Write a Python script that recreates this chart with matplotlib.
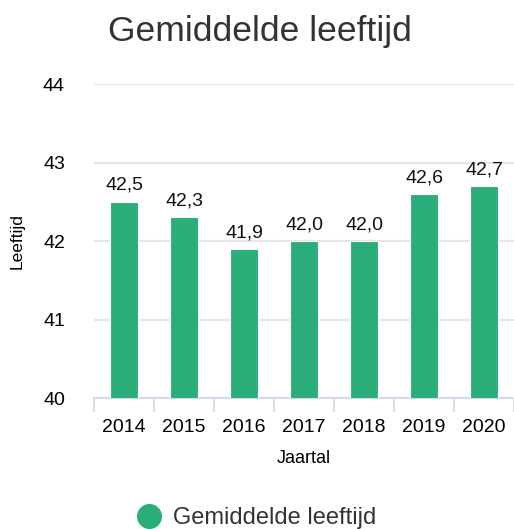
import matplotlib
matplotlib.use("Agg")
import matplotlib.pyplot as plt
from matplotlib.lines import Line2D
import numpy as np

jaren = ['2014', '2015', '2016', '2017', '2018', '2019', '2020']
leeftijd = [42.5, 42.3, 41.9, 42.0, 42.0, 42.6, 42.7]
y_ticks = [40, 41, 42, 43, 44]

plt.rcParams['font.family'] = ['Liberation Sans', 'DejaVu Sans']
groen = '#2bad7a'

fig = plt.figure(figsize=(5.14, 5.29), dpi=100)
ax = fig.add_axes([0.183, 0.2476, 0.817, 0.5936])

x = np.arange(len(jaren))
ax.bar(x, leeftijd, width=0.46, color=groen, edgecolor='white', linewidth=0.8, zorder=3)
for xi, v in zip(x, leeftijd):
    ax.text(xi, v + 0.1, f'{v:.1f}'.replace('.', ','), ha='center', va='bottom',
            fontsize=14, color='#111111', zorder=4)

ax.set_xlim(-0.5, len(jaren) - 0.5)
ax.set_ylim(40, 44)
ax.set_yticks(y_ticks)
ax.set_yticklabels([str(t) for t in y_ticks], fontsize=14)
ax.set_xticks(x)
ax.set_xticklabels(jaren, fontsize=14)
ax.set_xticks(np.arange(-0.5, len(jaren)), minor=True)
ax.tick_params(axis='x', which='major', length=0, pad=15)
ax.tick_params(axis='x', which='minor', length=10, width=1.2, color='#ccd6eb')
ax.tick_params(axis='y', length=0, pad=21)
ax.grid(axis='y', color='#e6e6e6', linewidth=1.6, zorder=0)
for s in ['top', 'right', 'left']:
    ax.spines[s].set_visible(False)
ax.spines['bottom'].set_color('#ccd6eb')
ax.spines['bottom'].set_linewidth(1.2)

ax.set_xlabel('Jaartal', fontsize=13, labelpad=10)
ax.set_ylabel('Leeftijd', fontsize=12.5, labelpad=13)

fig.text(0.506, 0.941, 'Gemiddelde leeftijd', ha='center', va='center', fontsize=25.5,
         color='#333333')

handle = Line2D([], [], marker='o', linestyle='none', markersize=17,
                markerfacecolor=groen, markeredgecolor=groen)
fig.legend(handles=[handle], labels=['Gemiddelde leeftijd'], loc='center',
           bbox_to_anchor=(0.5, 0.021), frameon=False, fontsize=17, handlelength=1.0,
           handletextpad=0.5, labelcolor='#333333')

fig.savefig('out.png', dpi=100)
